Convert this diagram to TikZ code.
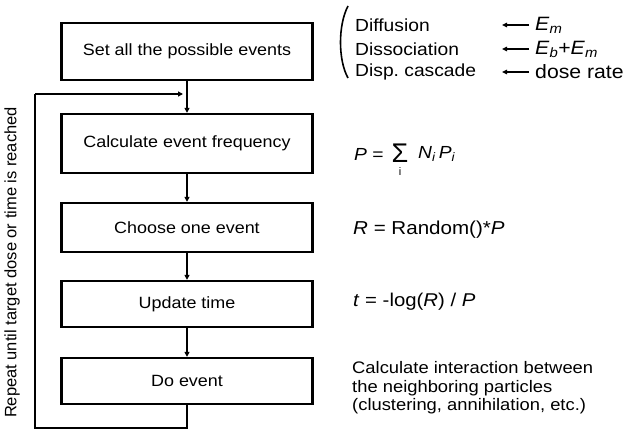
\documentclass[tikz,border=0pt]{standalone}
\usepackage{fontspec}
\setmainfont{Liberation Sans}
\newfontfamily\widesans[FakeStretch=1.1]{Liberation Sans}
\usetikzlibrary{arrows.meta}
\tikzset{
  stepbox/.style={draw, line width=2.3pt, minimum width=251pt, minimum height=#1, inner sep=0pt,
    font=\widesans\fontsize{16.3}{18}\selectfont},
  flow/.style={line width=1.8pt, -{Triangle[length=5pt,width=5pt]}},
  note/.style={anchor=west, inner sep=0pt, font=\widesans\fontsize{17.5}{18.5}\selectfont},
  source/.style={note, font=\widesans\fontsize{19.3}{19.5}\selectfont},
  small/.style={line width=1.6pt, -{Triangle[length=5pt,width=4.5pt]}}
}
\begin{document}
\begin{tikzpicture}[x=1pt,y=-1pt]
\useasboundingbox (0,0) rectangle (626,430);

% main flow
\node[stepbox=57pt] (s1) at (187,51.5) {Set all the possible events};
\node[stepbox=59pt] (s2) at (187,143.5) {Calculate event frequency};
\node[stepbox=49pt] (s3) at (187,227.5) {Choose one event};
\node[stepbox=46pt] (s4) at (187,304) {Update time};
\node[stepbox=46pt] (s5) at (187,381) {Do event};

\draw[flow] (s1) -- (s2);
\draw[flow] (s2) -- (s3);
\draw[flow] (s3) -- (s4);
\draw[flow] (s4) -- (s5);

% repeat loop
\coordinate (lb) at (35,428);
\coordinate (lt) at (35,94);
\coordinate (lin) at (183,94);
\draw[line width=1.8pt] (s5.south) |- (lb) -- (lt);
\draw[flow] (lt) -- (lin);
\node[rotate=90, inner sep=0pt, font=\fontsize{16.5}{18}\selectfont] (rep) at (12,262.5)
  {Repeat until target dose or time is reached};

% event types and what drives them
\draw[line width=1.6pt] (348,6) .. controls (338,25) and (338,60) .. (348,78);
\node[note] (d1) at (355,25) {Diffusion};
\node[note] (d2) at (355,49) {Dissociation};
\node[note] (d3) at (355,72) {Disp.\ cascade};
\node[source] (e1) at (535,25) {\textit{E}\textsubscript{\textit{m}}};
\node[source] (e2) at (535,49) {\textit{E}\textsubscript{\textit{b}}+\textit{E}\textsubscript{\textit{m}}};
\node[source] (e3) at (535,72) {dose rate};
\draw[small] (e1.west) ++(-6,0) coordinate (a1) -- ++(-27,0);
\draw[small] (e2.west) ++(-6,0) coordinate (a2) -- ++(-27,0);
\draw[small] (e3.west) ++(-6,0) coordinate (a3) -- ++(-27,0);

% formulas
\node[note] (f1) at (354,154) {\textit{P} =};
\node[inner sep=0pt, font=\fontsize{27}{27}\selectfont] (sig) at (400,153) {Σ};
\node[inner sep=0pt, font=\fontsize{11}{11}\selectfont] (sidx) at (400,172) {i};
\node[note] (f1b) at (418,154) {\textit{N}\textsubscript{\textit{i}}\,\textit{P}\textsubscript{\textit{i}}};
\node[note, font=\widesans\fontsize{18.7}{19}\selectfont] (f2) at (353,230) {\textit{R} = Random()*\textit{P}};
\node[note, font=\widesans\fontsize{18.5}{19}\selectfont] (f3) at (353,302) {\textit{t} = -log(\textit{R}) / \textit{P}};
\node[note, align=left, font=\widesans\fontsize{16.7}{18.5}\selectfont] (f4) at (352,388)
  {Calculate interaction between\\the neighboring particles\\(clustering, annihilation, etc.)};
\end{tikzpicture}
\end{document}
